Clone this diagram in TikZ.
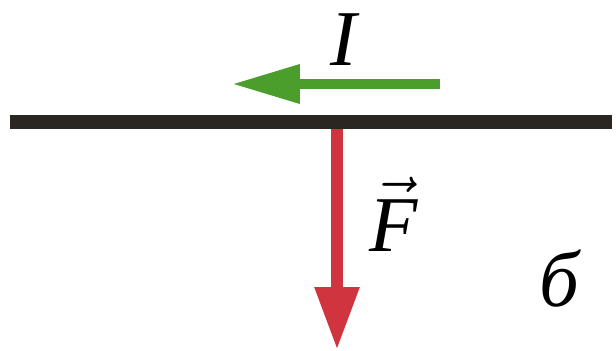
\RequirePackage{fix-cm}
\documentclass[tikz,border=0pt]{standalone}
\usepackage{fontspec}
\newfontfamily\labelfont{Liberation Serif}
\usetikzlibrary{arrows.meta}
\definecolor{wireBlack}{HTML}{2A2622}
\definecolor{currGreen}{HTML}{4C9E2C}
\definecolor{forceRed}{HTML}{D0343E}

\begin{document}
\begin{tikzpicture}[x=0.02cm,y=-0.02cm,
  wire/.style={line width=0.28cm,wireBlack},
  current/.style={-{Triangle[length=1.36cm,width=0.74cm]},line width=0.2cm,currGreen},
  force/.style={-{Triangle[length=1.26cm,width=0.84cm]},line width=0.24cm,forceRed},
  lbl/.style={font=\fontsize{45}{48}\selectfont\labelfont\itshape,inner sep=0pt}]

  \useasboundingbox (0,0) rectangle (616,351);

  \coordinate (wireL) at (10,122);
  \coordinate (wireR) at (612,122);
  \coordinate (Itail) at (440,84);
  \coordinate (Ihead) at (232,84);
  \coordinate (Ftail) at (337,129);
  \coordinate (Fhead) at (337,350);

  \draw[wire] (wireL) -- (wireR);
  \draw[current] (Itail) -- (Ihead);
  \draw[force] (Ftail) -- (Fhead);

  \node[lbl] (labelI) at (344,40) {I};
  \node[lbl] (labelF) at (394,214) {$\vec{\mbox{F}}$};
  \node[lbl] (labelB) at (559,279) {б};
\end{tikzpicture}
\end{document}
